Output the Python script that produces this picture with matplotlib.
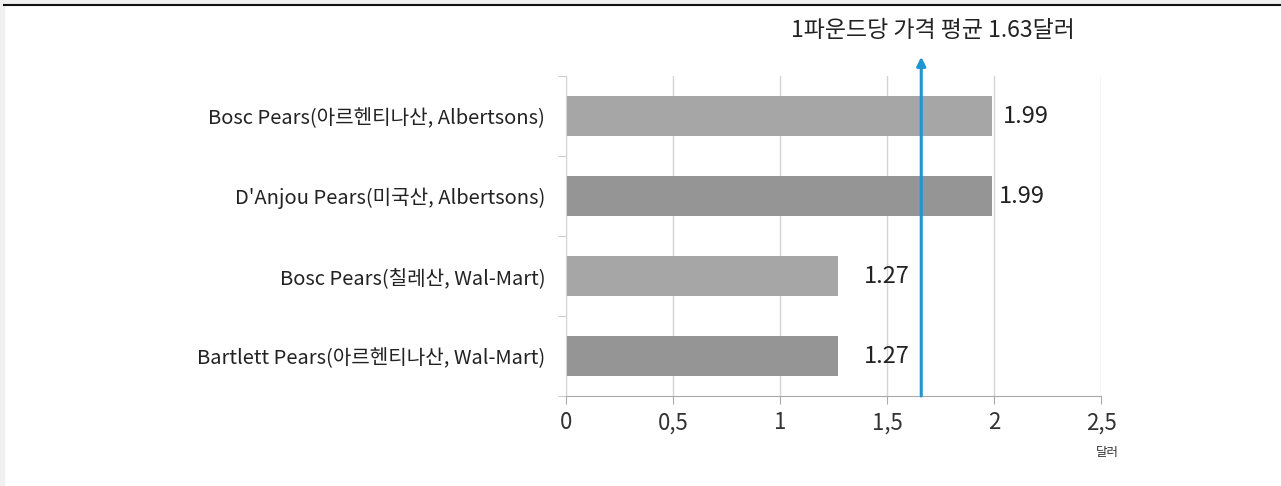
import matplotlib
matplotlib.use("Agg")
import matplotlib.pyplot as plt
from matplotlib.lines import Line2D
from matplotlib.patches import Rectangle

plt.rcParams['font.family'] = ['Noto Sans CJK KR', 'DejaVu Sans']

# data
stores = [
    'Bosc Pears(아르헨티나산, Albertsons)',
    "D'Anjou Pears(미국산, Albertsons)",
    'Bosc Pears(칠레산, Wal-Mart)',
    'Bartlett Pears(아르헨티나산, Wal-Mart)',
]
prices = [1.99, 1.99, 1.27, 1.27]
bar_colors = ['#a6a6a6', '#959595', '#a6a6a6', '#959595']
label_pad = [0.05, 0.035, 0.12, 0.12]
avg_price = 1.63
avg_line_x = 1.66
x_ticks = [0, 0.5, 1, 1.5, 2, 2.5]
x_ticklabels = ['0', '0,5', '1', '1,5', '2', '2,5']
avg_text = '1파운드당 가격 평균 1.63달러'
unit_text = '달러'

W, H = 1281, 486
fig = plt.figure(figsize=(W / 100, H / 100), dpi=100)
ax = fig.add_axes([566 / W, 1 - 396 / H, (1101 - 566) / W, (396 - 76) / H])

ypos = list(range(len(stores)))
ax.barh(ypos, prices, height=0.49, color=bar_colors, zorder=2)
ax.set_ylim(len(stores) - 0.5, -0.5)
ax.set_xlim(0, 2.5)

for y, v, p in zip(ypos, prices, label_pad):
    ax.text(v + p, y, f'{v:.2f}', va='center', ha='left', fontsize=17, color='#222222')

# grid and axes styling
ax.set_xticks(x_ticks)
ax.set_xticklabels(x_ticklabels, fontsize=16, color='#333333')
ax.xaxis.grid(True, color='#d4d4d4', linewidth=1, zorder=0)
ax.tick_params(axis='x', length=6, color='#aaaaaa', pad=5)
ax.set_yticks([i - 0.5 for i in range(len(stores) + 1)])
ax.set_yticklabels([])
ax.set_yticks(ypos, minor=True)
ax.set_yticklabels(stores, minor=True, fontsize=14.5, color='#222222')
ax.tick_params(axis='y', which='major', length=6, color='#cccccc')
ax.tick_params(axis='y', which='minor', length=0, pad=15)
for s in ['top', 'right']:
    ax.spines[s].set_visible(False)
ax.spines['left'].set_color('#d4d4d4')
ax.spines['bottom'].set_color('#aaaaaa')

# average arrow
ax.annotate('', xy=(avg_line_x, 1.06), xytext=(avg_line_x, 0),
            xycoords=('data', 'axes fraction'), textcoords=('data', 'axes fraction'),
            arrowprops=dict(arrowstyle='-|>', color='#1e96d2', lw=2.2, mutation_scale=13,
                            shrinkA=0, shrinkB=0), annotation_clip=False, zorder=5)
fig.text(933 / W, 1 - 30 / H, avg_text, ha='center', va='center', fontsize=16.5, color='#222222')
fig.text(1107 / W, 1 - 452 / H, unit_text, ha='center', va='center', fontsize=9, color='#333333')

# page frame bits
fig.add_artist(Rectangle((0, 0), 4 / W, 1, transform=fig.transFigure, color='#f0f0f0', zorder=0))
fig.add_artist(Rectangle((0, 1 - 4 / H), 1, 4 / H, transform=fig.transFigure, color='#f0f0f0', zorder=0))
fig.add_artist(Line2D([4 / W, 1], [1 - 5 / H, 1 - 5 / H], transform=fig.transFigure, color='#111111', lw=1.5))

fig.savefig('out.png', dpi=100)
